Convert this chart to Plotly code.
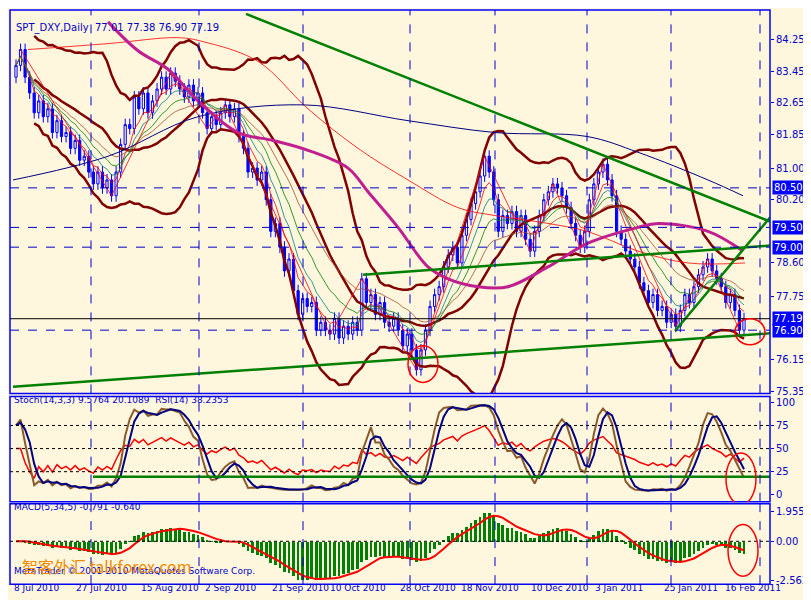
import numpy as np
import pandas as pd
import plotly.graph_objects as go

# ---- data ----
closes = [
    83.6, 84.0, 83.3, 82.9, 82.4,
    82.7, 82.3, 82.5, 81.9,
    82.2, 81.8, 81.9, 81.5,
    81.7, 81.2, 81.3, 80.9, 80.6,
    80.9, 80.5, 80.7, 80.3,
    80.9, 81.6, 82.1, 82.0, 82.8,
    82.5, 82.9, 82.4, 82.7, 83.0, 83.3, 83.0, 83.4,
    83.2, 83.0, 82.8, 83.1, 82.7, 82.9, 82.4, 82.0,
    82.3, 82.1, 82.4, 82.6,
    82.3, 82.5, 81.8, 81.5, 80.9,
    81.0, 80.7, 80.9, 80.2, 79.4,
    79.6, 79.0, 78.4, 78.7, 77.9, 77.3,
    77.7, 77.5, 77.6, 76.9,
    77.1, 76.9, 76.8, 77.2, 76.7, 77.0, 76.8,
    77.1, 76.9, 78.2,
    77.6, 77.8, 77.3, 77.6, 77.1, 77.0,
    77.2, 76.9, 76.5, 76.8, 76.4, 75.9,
    76.4, 76.9, 77.5, 77.8, 78.0, 78.5, 78.8,
    79.0, 78.6, 79.3, 79.7, 80.1, 80.4, 80.8, 81.3,
    80.9, 80.2, 79.4,
    79.8, 79.6, 79.9, 79.4, 79.8, 79.2, 78.9,
    79.4, 79.8, 80.2, 80.4, 80.6, 80.5,
    80.3, 80.0, 79.6, 79.3, 79.0,
    79.4, 80.2, 80.6, 80.9, 81.1,
    80.7, 80.3, 79.4, 79.2, 78.9, 78.7, 78.5,
    78.1, 77.9, 77.6, 77.8, 77.4, 77.5, 77.1, 77.3, 77.0,
    77.4, 77.8, 77.6, 78.0, 78.3, 78.5, 78.7,
    78.4, 78.2, 78.0, 77.6, 77.8, 77.4, 76.9, 77.19,
]
first_open = 83.3
wick = 0.15

# long moving averages (pixel x, price)
ma200_px = [5, 100, 190, 295, 400, 487, 579, 630, 700, 735]
ma200_val = [80.7, 81.3, 82.3, 82.6, 82.2, 81.9, 81.8, 81.4, 80.7, 80.3]
ma100_px = [20, 100, 170, 195, 250, 300, 350, 400, 450, 487, 540, 579, 630, 680, 737]
ma100_val = [84.0, 84.15, 84.3, 84.2, 83.7, 82.5, 81.5, 80.7, 80.0, 79.8, 79.6, 79.4, 78.9, 78.6, 78.6]
ma55_px = [100, 130, 160, 190, 230, 265, 300, 340, 360, 390, 420, 440, 470, 500, 540, 580, 630, 650, 700, 735]
ma55_val = [84.7, 83.97, 83.5, 82.7, 81.9, 81.7, 81.45, 81.0, 80.4, 79.5, 78.5, 78.2, 78.0, 78.0, 78.5, 79.1, 79.5, 79.6, 79.4, 78.9]

# zigzag turning points (bar index)
zz_idx = [1, 21, 34, 42, 46, 69, 76, 88, 103, 113, 118, 124, 129, 145, 152, 159]

# trend lines (pixel x, price)
trend_lines = [
    ([238, 762], [84.9, 79.65]),
    ([5, 762], [75.47, 76.82]),
    ([355, 762], [78.3, 79.04]),
    ([667, 762], [76.88, 79.75]),
]

right_ticks = [84.25, 83.45, 82.65, 81.85, 81.00, 80.20, 78.60, 77.75, 76.15, 75.35]
boxed = [80.50, 79.50, 79.00, 77.19, 76.90]
h_dashed = [80.50, 79.50, 79.00, 76.90]
v_grid_px = [83, 191, 295, 402, 487, 579, 663, 752]
date_labels = ["8 Jul 2010", "27 Jul 2010", "15 Aug 2010", "2 Sep 2010", "21 Sep 2010", "10 Oct 2010",
               "28 Oct 2010", "18 Nov 2010", "10 Dec 2010", "3 Jan 2011", "25 Jan 2011", "16 Feb 2011"]
date_px = [4, 66, 131, 195, 262, 320, 390, 451, 521, 585, 654, 715]

NAVY = "#0000C8"
BG = "#FFF6DE"
W, H = 811, 600


def px(x):
    return (x - 8) / 4.55


def fy(y):
    return 1 - y / H


# ---- derived series ----
c = pd.Series(closes)
o = pd.Series([first_open] + closes[:-1])
hi = np.maximum(o, c) + wick
lo = np.minimum(o, c) - wick
xs = list(range(len(c)))

bb_mid = c.rolling(20, min_periods=5).mean()
bb_sd = c.rolling(20, min_periods=5).std(ddof=0)

hh = hi.rolling(14, min_periods=1).max()
ll = lo.rolling(14, min_periods=1).min()
num = (c - ll).rolling(3, min_periods=1).sum()
den = (hh - ll).rolling(3, min_periods=1).sum()
stoch_k = 100 * num / den
stoch_d = stoch_k.rolling(3, min_periods=1).mean()

delta = c.diff().fillna(0)
up = delta.clip(lower=0).ewm(alpha=1 / 14, adjust=False).mean()
dn = (-delta.clip(upper=0)).ewm(alpha=1 / 14, adjust=False).mean()
rsi = 100 - 100 / (1 + up / dn.replace(0, np.nan))
rsi = rsi.fillna(50)

macd = c.ewm(span=5, adjust=True).mean() - c.ewm(span=34, adjust=True).mean()
signal = macd.rolling(5, min_periods=1).mean()

fig = go.Figure()

# price panel
fig.add_trace(go.Candlestick(
    x=xs, open=o, high=hi, low=lo, close=c,
    increasing=dict(line=dict(color="#0000FF", width=1), fillcolor=BG),
    decreasing=dict(line=dict(color="#0000FF", width=1), fillcolor="#0000FF"),
    whiskerwidth=0, xaxis="x", yaxis="y", showlegend=False))

for band in [bb_mid + 2 * bb_sd, bb_mid - 2 * bb_sd, bb_mid]:
    fig.add_trace(go.Scatter(x=xs, y=band, mode="lines", line=dict(color="#800000", width=2.5),
                             xaxis="x", yaxis="y", showlegend=False))

for span, color in [(5, "#FF0000"), (8, "#008080"), (13, "#008000"), (21, "#A0522D")]:
    fig.add_trace(go.Scatter(x=xs, y=c.ewm(span=span, adjust=True).mean(), mode="lines",
                             line=dict(color=color, width=0.8), xaxis="x", yaxis="y", showlegend=False))

for pxs, vals, color, wd in [(ma200_px, ma200_val, "#000080", 1), (ma100_px, ma100_val, "#FF0000", 0.8),
                             (ma55_px, ma55_val, "#C0208F", 3)]:
    fig.add_trace(go.Scatter(x=[px(v) for v in pxs], y=vals, mode="lines", line=dict(color=color, width=wd, shape="spline"),
                             xaxis="x", yaxis="y", showlegend=False))

fig.add_trace(go.Scatter(x=zz_idx, y=[closes[i] for i in zz_idx], mode="lines",
                         line=dict(color="#FF0000", width=0.8), xaxis="x", yaxis="y", showlegend=False))

for lx, ly in trend_lines:
    fig.add_trace(go.Scatter(x=[px(v) for v in lx], y=ly, mode="lines", line=dict(color="#008000", width=2.5),
                             xaxis="x", yaxis="y", showlegend=False))

# stochastic / RSI panel
fig.add_trace(go.Scatter(x=xs, y=rsi, mode="lines", line=dict(color="#FF0000", width=1.5), xaxis="x2", yaxis="y2", showlegend=False))
fig.add_trace(go.Scatter(x=xs, y=stoch_k, mode="lines", line=dict(color="#8B5A2B", width=2), xaxis="x2", yaxis="y2", showlegend=False))
fig.add_trace(go.Scatter(x=xs, y=stoch_d, mode="lines", line=dict(color="#000080", width=2), xaxis="x2", yaxis="y2", showlegend=False))
fig.add_trace(go.Scatter(x=[px(85), px(762)], y=[19.5, 19.5], mode="lines", line=dict(color="#008000", width=2.5),
                         xaxis="x2", yaxis="y2", showlegend=False))

# MACD panel
fig.add_trace(go.Bar(x=xs, y=macd, marker=dict(color="#008000", line=dict(width=0)), width=0.6,
                     xaxis="x3", yaxis="y3", showlegend=False))
fig.add_trace(go.Scatter(x=xs, y=signal, mode="lines", line=dict(color="#FF0000", width=2), xaxis="x3", yaxis="y3", showlegend=False))

xr = [px(2), px(762)]
xdom = [2 / W, 762 / W]
ax = dict(range=xr, domain=xdom, visible=False, showgrid=False, fixedrange=True)
yax = dict(side="right", showgrid=False, zeroline=False, ticks="outside", ticklen=3, tickcolor=NAVY,
           tickfont=dict(family="DejaVu Sans", size=10, color=NAVY), showline=False)

fig.update_layout(
    width=W, height=H, margin=dict(l=0, r=0, t=0, b=0),
    paper_bgcolor=BG, plot_bgcolor=BG, bargap=0,
    xaxis=dict(ax, rangeslider=dict(visible=False)),
    xaxis2=dict(ax, anchor="y2"), xaxis3=dict(ax, anchor="y3"),
    yaxis=dict(yax, domain=[fy(388), fy(2)], range=[75.30, 85.0], tickvals=right_ticks,
               ticktext=[f"{v:.2f}" for v in right_ticks]),
    yaxis2=dict(yax, domain=[fy(497), fy(391)], range=[-7.5, 106.5], tickvals=[0, 25, 50, 75, 100], anchor="x2"),
    yaxis3=dict(yax, domain=[fy(580), fy(499)], range=[-2.825, 2.48], tickvals=[1.955, 0, -2.563],
                ticktext=["1.955", "0.00", "-2.563"], anchor="x3"),
)

shapes = []
for yname in ["y", "y2", "y3"]:
    for gx in v_grid_px:
        shapes.append(dict(type="line", xref="x", yref=f"{yname} domain", x0=px(gx), x1=px(gx), y0=0, y1=1,
                           line=dict(color=NAVY, width=1, dash="dash")))
    xname = {"y": "x", "y2": "x2", "y3": "x3"}[yname]
    shapes.append(dict(type="rect", xref=f"{xname} domain", yref=f"{yname} domain", x0=0, x1=1, y0=0, y1=1,
                       line=dict(color="#0000FF", width=1.5)))
for hv in h_dashed:
    shapes.append(dict(type="line", xref="x domain", yref="y", x0=0, x1=1, y0=hv, y1=hv,
                       line=dict(color=NAVY, width=1, dash="dash")))
shapes.append(dict(type="line", xref="x domain", yref="y", x0=0, x1=1, y0=77.19, y1=77.19, line=dict(color="black", width=1)))
for lv in [25, 50, 75]:
    shapes.append(dict(type="line", xref="x2 domain", yref="y2", x0=0, x1=1, y0=lv, y1=lv,
                       line=dict(color="black", width=1, dash="dot")))
shapes.append(dict(type="line", xref="x3 domain", yref="y3", x0=0, x1=1, y0=0, y1=0, line=dict(color="black", width=1, dash="dot")))


def py(y):
    return 84.25 - (y - 32) / 39.78


circles = [
    ("x", "y", 400, 430, py(377), py(340)),
    ("x", "y", 727, 757, py(339), py(313)),
    ("x2", "y2", 718, 748, (490 - 500) / 0.93, (490 - 448) / 0.93),
    ("x3", "y3", 720, 750, (536.9 - 572) / 15.27, (536.9 - 520) / 15.27),
]
for xr_, yr_, x0, x1, y0, y1 in circles:
    shapes.append(dict(type="circle", xref=xr_, yref=yr_, x0=px(x0), x1=px(x1), y0=y0, y1=y1,
                       line=dict(color="#FF0000", width=1.5)))
fig.update_layout(shapes=shapes)

ann = []
for bv in boxed:
    ann.append(dict(xref="paper", yref="y", x=764 / W, y=bv, text=f"{bv:.2f}", showarrow=False, xanchor="left",
                    bgcolor="#0000FF", font=dict(family="DejaVu Sans", size=10, color="white"), borderpad=1))
txt = dict(family="DejaVu Sans", size=10, color=NAVY)
ann.append(dict(xref="paper", yref="paper", x=6 / W, y=fy(12), text="SPT_DXY,Daily  77.01 77.38 76.90 77.19",
                showarrow=False, xanchor="left", font=txt))
ann.append(dict(xref="paper", yref="paper", x=4 / W, y=fy(402), text="Stoch(14,3,3) 9.5764 20.1089  RSI(14) 38.2353",
                showarrow=False, xanchor="left", font=dict(txt, size=9)))
ann.append(dict(xref="paper", yref="paper", x=4 / W, y=fy(509), text="MACD(5,34,5) -0.791 -0.640",
                showarrow=False, xanchor="left", font=dict(txt, size=9)))
ann.append(dict(xref="paper", yref="paper", x=4 / W, y=fy(574), text="MetaTrader © 2001-2010 MetaQuotes Software Corp.",
                showarrow=False, xanchor="left", font=dict(txt, size=9)))
ann.append(dict(xref="paper", yref="paper", x=12 / W, y=fy(576), text="智客外汇 talkforex.com",
                showarrow=False, xanchor="left", font=dict(family="Noto Sans CJK SC", size=16, color="#F08A00")))
for lab, lx in zip(date_labels, date_px):
    ann.append(dict(xref="paper", yref="paper", x=lx / W, y=fy(591), text=lab, showarrow=False, xanchor="left",
                    font=dict(txt, size=9)))
fig.update_layout(annotations=ann)

fig.write_html("out.html")
